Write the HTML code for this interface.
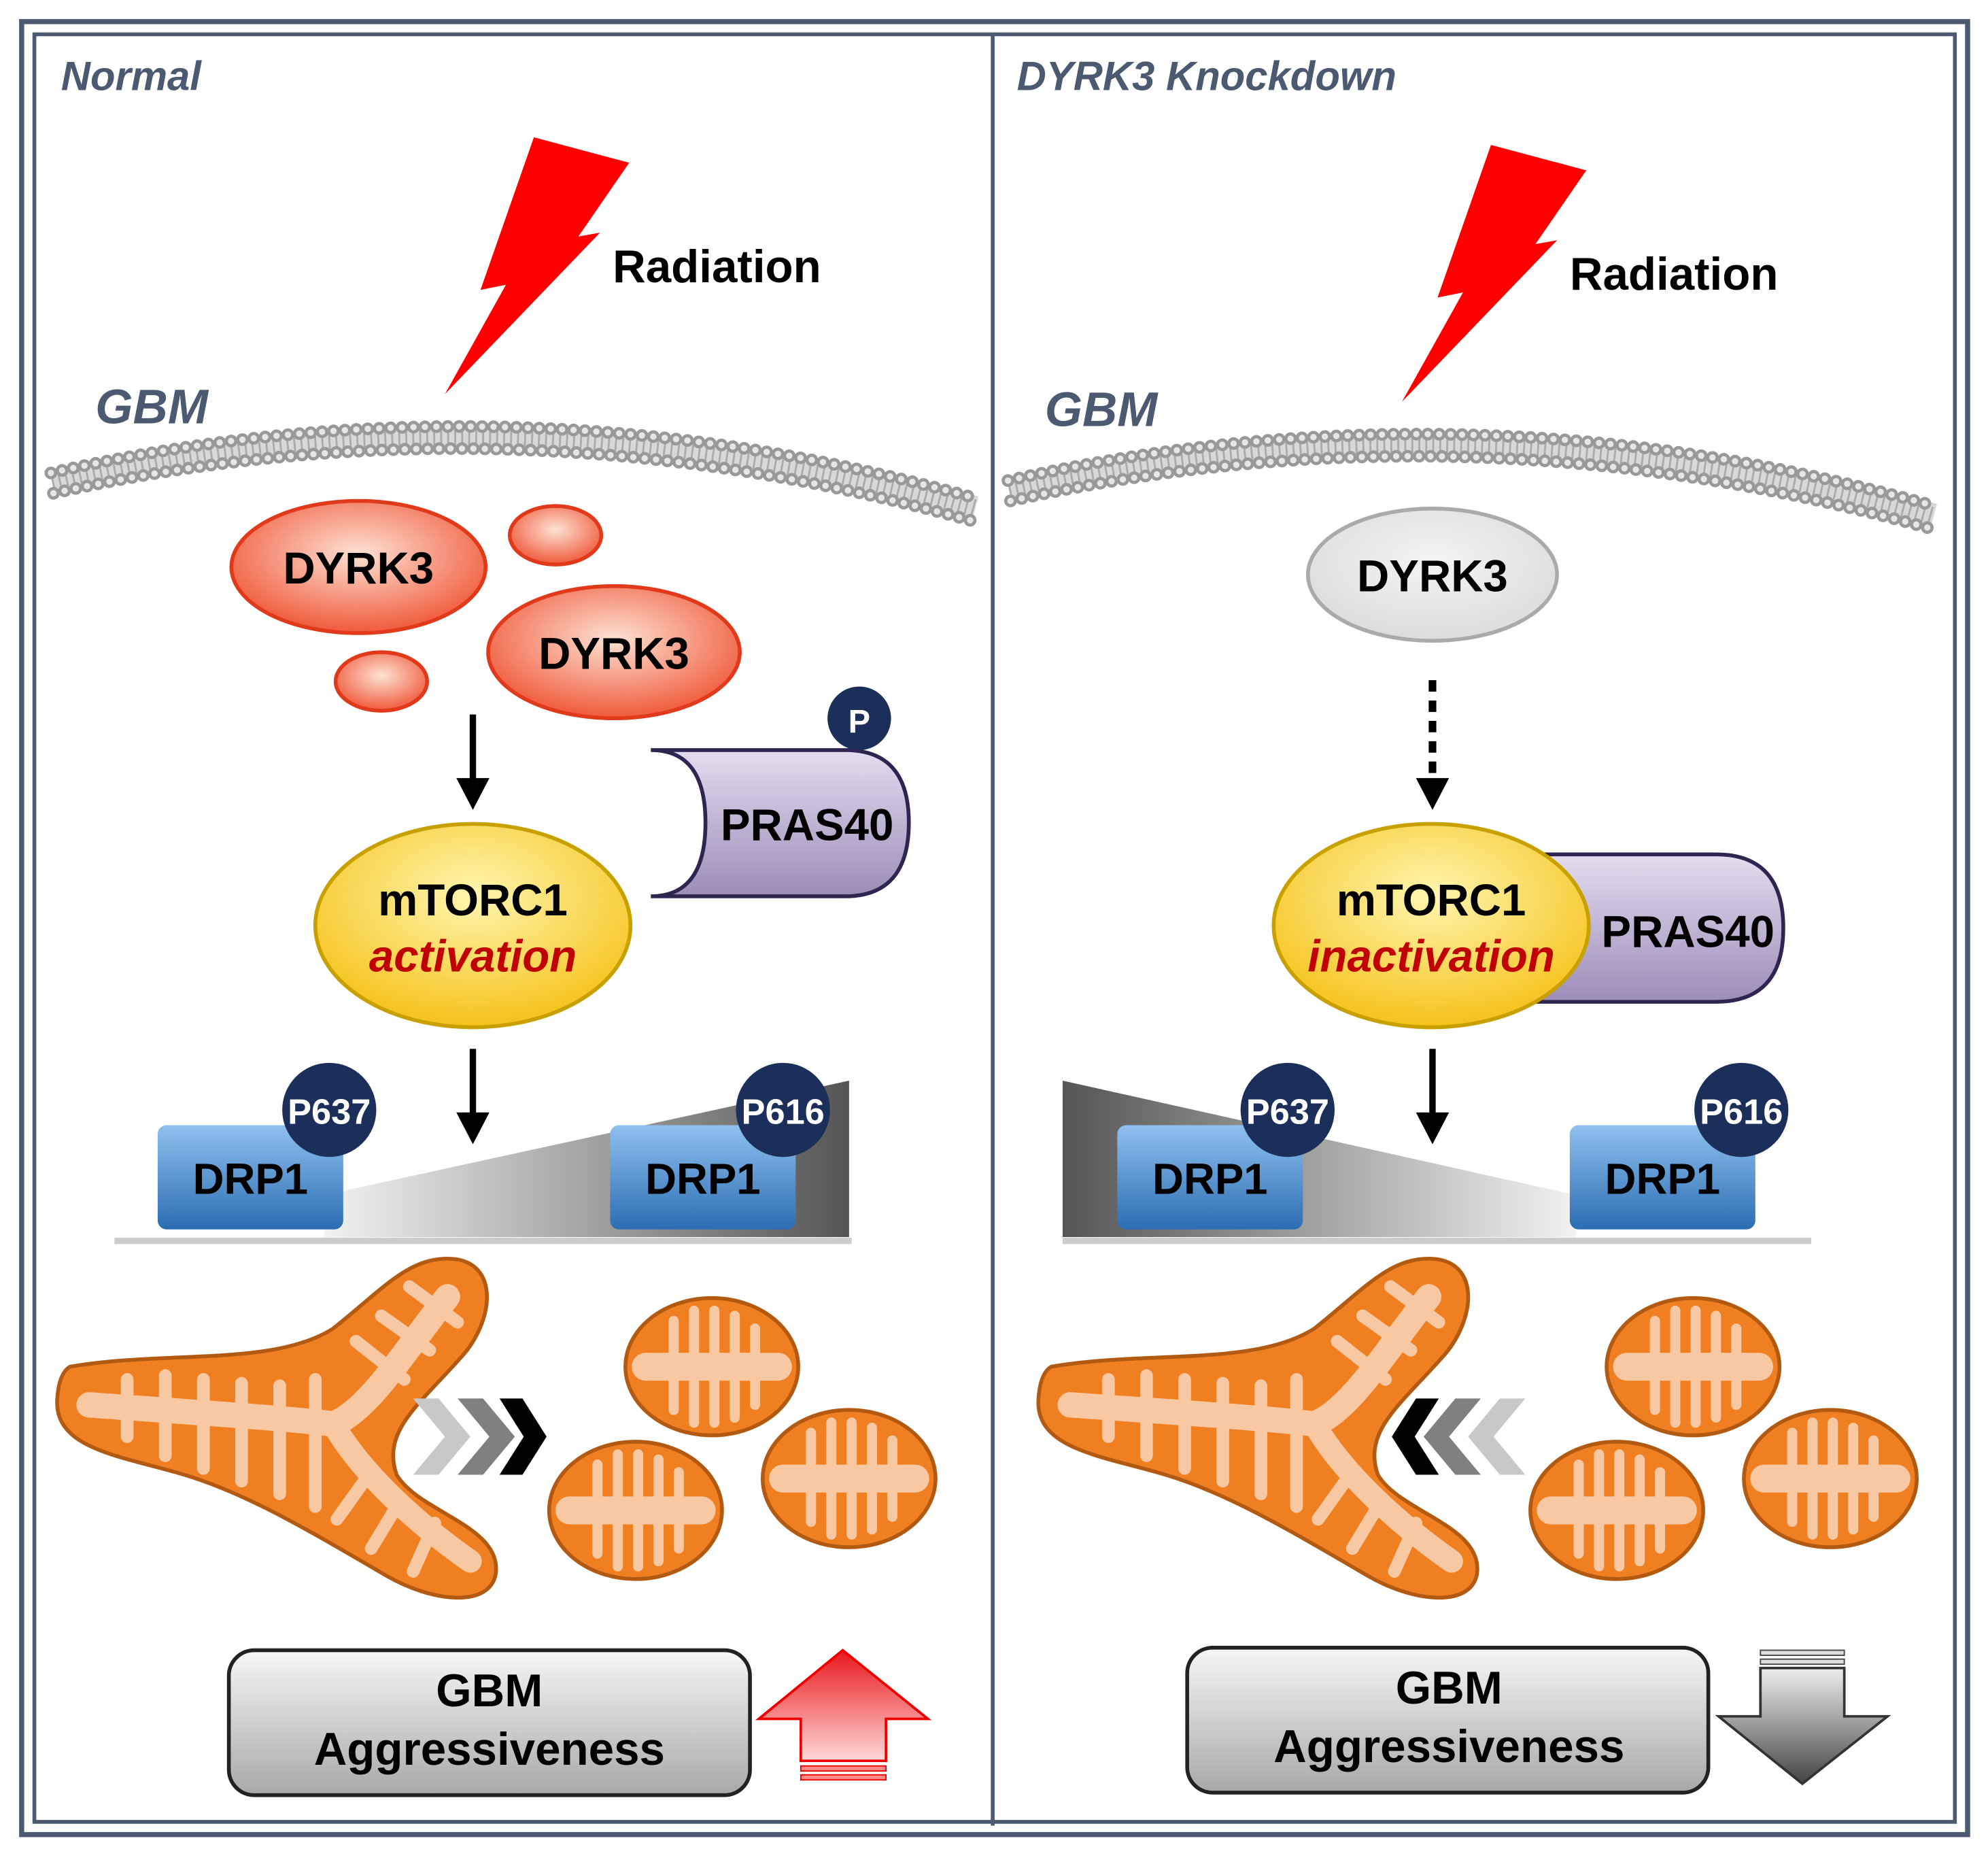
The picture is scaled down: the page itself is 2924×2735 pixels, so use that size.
<!DOCTYPE html>
<html><head><meta charset="utf-8"><style>
html,body{margin:0;padding:0;background:#fff}
svg{display:block}
text{font-family:"Liberation Sans",Arial,sans-serif;font-weight:bold}
</style></head><body>
<svg width="2924" height="2735" viewBox="0 0 1564 1463" xmlns="http://www.w3.org/2000/svg">
<defs>
<radialGradient id="red" cx="50%" cy="40%" r="60%"><stop offset="0" stop-color="#fde2d4"/><stop offset="1" stop-color="#f0593a"/></radialGradient>
<radialGradient id="gry" cx="50%" cy="40%" r="60%"><stop offset="0" stop-color="#f4f4f4"/><stop offset="1" stop-color="#dcdcdc"/></radialGradient>
<radialGradient id="yel" cx="50%" cy="35%" r="65%"><stop offset="0" stop-color="#fff6b0"/><stop offset="1" stop-color="#f5c21a"/></radialGradient>
<linearGradient id="pur" x1="0" y1="0" x2="0" y2="1"><stop offset="0" stop-color="#e4dcef"/><stop offset="1" stop-color="#9c8cb8"/></linearGradient>
<linearGradient id="blu" x1="0" y1="0" x2="0" y2="1"><stop offset="0" stop-color="#8ec0ee"/><stop offset="1" stop-color="#2c6db3"/></linearGradient>
<linearGradient id="boxg" x1="0" y1="0" x2="0" y2="1"><stop offset="0" stop-color="#f6f6f6"/><stop offset="1" stop-color="#a8a8a8"/></linearGradient>
<linearGradient id="wedgeR" x1="0" y1="0" x2="1" y2="0"><stop offset="0" stop-color="#f2f2f2"/><stop offset="1" stop-color="#555"/></linearGradient>
<linearGradient id="wedgeL" x1="1" y1="0" x2="0" y2="0"><stop offset="0" stop-color="#f2f2f2"/><stop offset="1" stop-color="#555"/></linearGradient>
<linearGradient id="redA" x1="0" y1="0" x2="0" y2="1"><stop offset="0" stop-color="#e8171b"/><stop offset="1" stop-color="#ffd8d8"/></linearGradient>
<linearGradient id="gryA" x1="0" y1="0" x2="0" y2="1"><stop offset="0" stop-color="#eeeeee"/><stop offset="1" stop-color="#444"/></linearGradient>
<g id="smito">
<ellipse cx="0" cy="0" rx="68" ry="54" fill="#f07f22" stroke="#b35a12" stroke-width="3"/>
<g stroke="#f8c8a2" stroke-linecap="round" fill="none">
<path d="M-52,0 H52" stroke-width="22"/>
<path d="M-30,0 V-36 M-14,0 V-44 M2,0 V-44 M18,0 V-40 M34,0 V-30 M-30,0 V34 M-14,0 V44 M2,0 V44 M18,0 V40 M34,0 V30" stroke-width="8"/>
</g>
</g>
<g id="bmito">
<path d="M55,1075 C130,1062 215,1075 262,1045 C300,1015 320,990 352,990 C392,990 390,1035 365,1065 C330,1105 300,1125 312,1160 C330,1190 395,1200 390,1238 C385,1265 340,1260 305,1240 C245,1205 195,1175 145,1160 C95,1145 42,1140 45,1100 C46,1085 50,1078 55,1075 Z" fill="#f07f22" stroke="#b35a12" stroke-width="3"/>
<g stroke="#f8c8a2" stroke-linecap="round" fill="none" stroke-width="10">
<path d="M70,1105 C140,1110 220,1115 262,1120 C290,1110 320,1060 352,1020" stroke-width="20"/>
<path d="M262,1120 C285,1160 330,1200 370,1228" stroke-width="18"/>
<path d="M100,1085 V1130 M130,1082 V1145 M160,1085 V1155 M190,1088 V1165 M220,1090 V1175 M248,1085 V1185 M280,1055 L318,1085 M300,1035 L338,1062 M322,1012 L360,1040 M290,1160 L265,1195 M315,1180 L292,1218 M342,1198 L325,1236"/>
</g>
</g>
</defs>
<rect x="0" y="0" width="1564" height="1463" fill="#fff"/>
<rect x="17" y="17" width="1531" height="1426" fill="none" stroke="#4b5a70" stroke-width="4"/>
<rect x="27" y="27" width="1511" height="1406" fill="none" stroke="#4b5a70" stroke-width="3"/>
<line x1="781" y1="27" x2="781" y2="1436" stroke="#4b5a70" stroke-width="3"/>

<text x="48" y="71" font-size="32" font-style="italic" fill="#4b5a70">Normal</text>
<text x="800" y="71" font-size="32" font-style="italic" fill="#4b5a70">DYRK3 Knockdown</text>

<!-- LEFT -->
<g>
<polygon points="420,108 495,128 455,186 472,183 350,310 398,224 378,228" fill="#f00"/>
<text x="482" y="222" font-size="36">Radiation</text>
<text x="75" y="333" font-size="38" font-style="italic" fill="#4b5a70">GBM</text>
<path d="M41,380 Q400,299 767,401" fill="none" stroke="#d8d8d8" stroke-width="22"/>
<path d="M41,380 Q400,299 767,401" fill="none" stroke="#aaa" stroke-width="16" stroke-dasharray="1.5 4"/>
<path d="M40,372 Q400,290 768,392" fill="none" stroke="#999" stroke-width="10" stroke-dasharray="0 9" stroke-linecap="round"/>
<path d="M40,372 Q400,290 768,392" fill="none" stroke="#e6e6e6" stroke-width="5" stroke-dasharray="0 9" stroke-linecap="round"/>
<path d="M42,388 Q400,308 766,410" fill="none" stroke="#999" stroke-width="10" stroke-dasharray="0 9" stroke-linecap="round"/>
<path d="M42,388 Q400,308 766,410" fill="none" stroke="#e6e6e6" stroke-width="5" stroke-dasharray="0 9" stroke-linecap="round"/>
<ellipse cx="282" cy="446" rx="100" ry="52" fill="url(#red)" stroke="#e03a1a" stroke-width="3"/>
<ellipse cx="483" cy="513" rx="99" ry="52" fill="url(#red)" stroke="#e03a1a" stroke-width="3"/>
<ellipse cx="437" cy="421" rx="36" ry="23" fill="url(#red)" stroke="#e03a1a" stroke-width="3"/>
<ellipse cx="300" cy="536" rx="36" ry="23" fill="url(#red)" stroke="#e03a1a" stroke-width="3"/>
<text x="282" y="459" font-size="35" text-anchor="middle">DYRK3</text>
<text x="483" y="526" font-size="35" text-anchor="middle">DYRK3</text>
<line x1="372" y1="562" x2="372" y2="615" stroke="#000" stroke-width="5"/>
<polygon points="359,612 385,612 372,637" fill="#000"/>
<path d="M512,590 L665,590 Q715,590 715,647 Q715,705 665,705 L512,705 Q555,705 555,647 Q555,590 512,590 Z" fill="url(#pur)" stroke="#2e2550" stroke-width="3"/>
<text x="635" y="661" font-size="35" text-anchor="middle">PRAS40</text>
<circle cx="676" cy="565" r="25" fill="#1c2f5a"/>
<text x="676" y="576" font-size="26" text-anchor="middle" fill="#fff">P</text>
<ellipse cx="372" cy="728" rx="124" ry="80" fill="url(#yel)" stroke="#c8a000" stroke-width="3"/>
<text x="372" y="720" font-size="35" text-anchor="middle">mTORC1</text>
<text x="372" y="764" font-size="35" text-anchor="middle" font-style="italic" fill="#c00000">activation</text>
<line x1="372" y1="825" x2="372" y2="878" stroke="#000" stroke-width="5"/>
<polygon points="359,875 385,875 372,900" fill="#000"/>
<line x1="90" y1="976" x2="670" y2="976" stroke="#ccc" stroke-width="5"/>
<polygon points="255,940 668,850 668,973 255,973" fill="url(#wedgeR)"/>
<rect x="124" y="885" width="146" height="82" rx="7" fill="url(#blu)"/>
<rect x="480" y="885" width="146" height="82" rx="7" fill="url(#blu)"/>
<text x="197" y="939" font-size="34" text-anchor="middle">DRP1</text>
<text x="553" y="939" font-size="34" text-anchor="middle">DRP1</text>
<circle cx="259" cy="873" r="37" fill="#1c2f5a"/>
<text x="259" y="884" font-size="28" text-anchor="middle" fill="#fff">P637</text>
<circle cx="616" cy="873" r="37" fill="#1c2f5a"/>
<text x="616" y="884" font-size="28" text-anchor="middle" fill="#fff">P616</text>
<use href="#bmito"/>
<polygon points="325,1100 345,1100 370,1130 345,1160 325,1160 350,1130" fill="#c8c8c8"/>
<polygon points="360,1100 380,1100 405,1130 380,1160 360,1160 385,1130" fill="#808080"/>
<polygon points="393,1100 411,1100 430,1130 411,1160 393,1160 412,1130" fill="#000"/>
<use href="#smito" transform="translate(560,1075)"/>
<use href="#smito" transform="translate(500,1188)"/>
<use href="#smito" transform="translate(668,1163)"/>
<rect x="180" y="1298" width="410" height="114" rx="20" fill="url(#boxg)" stroke="#222" stroke-width="3"/>
<text x="385" y="1342" font-size="36" text-anchor="middle">GBM</text>
<text x="385" y="1388" font-size="36" text-anchor="middle">Aggressiveness</text>
<polygon points="597,1352 663,1298 730,1352 697,1352 697,1385 630,1385 630,1352" fill="url(#redA)" stroke="#e00" stroke-width="2"/>
<rect x="630" y="1389" width="67" height="4" fill="#f88" stroke="#e00" stroke-width="1"/>
<rect x="630" y="1396" width="67" height="4" fill="#f88" stroke="#e00" stroke-width="1"/>
</g>

<!-- RIGHT -->
<g>
<polygon points="1173,114 1248,134 1208,192 1225,189 1103,316 1151,230 1131,234" fill="#f00"/>
<text x="1235" y="228" font-size="36">Radiation</text>
<text x="822" y="335" font-size="38" font-style="italic" fill="#4b5a70">GBM</text>
<path d="M794,386 Q1155,305 1521,407" fill="none" stroke="#d8d8d8" stroke-width="22"/>
<path d="M794,386 Q1155,305 1521,407" fill="none" stroke="#aaa" stroke-width="16" stroke-dasharray="1.5 4"/>
<path d="M793,378 Q1155,296 1522,398" fill="none" stroke="#999" stroke-width="10" stroke-dasharray="0 9" stroke-linecap="round"/>
<path d="M793,378 Q1155,296 1522,398" fill="none" stroke="#e6e6e6" stroke-width="5" stroke-dasharray="0 9" stroke-linecap="round"/>
<path d="M795,394 Q1155,314 1520,416" fill="none" stroke="#999" stroke-width="10" stroke-dasharray="0 9" stroke-linecap="round"/>
<path d="M795,394 Q1155,314 1520,416" fill="none" stroke="#e6e6e6" stroke-width="5" stroke-dasharray="0 9" stroke-linecap="round"/>
<ellipse cx="1127" cy="452" rx="98" ry="52" fill="url(#gry)" stroke="#aaa" stroke-width="3"/>
<text x="1127" y="465" font-size="35" text-anchor="middle">DYRK3</text>
<line x1="1127" y1="535" x2="1127" y2="612" stroke="#000" stroke-width="6" stroke-dasharray="9 7"/>
<polygon points="1114,612 1140,612 1127,637" fill="#000"/>
<path d="M1200,672 L1350,672 Q1403,672 1403,730 Q1403,788 1350,788 L1200,788 Z" fill="url(#pur)" stroke="#2e2550" stroke-width="3"/>
<ellipse cx="1126" cy="728" rx="124" ry="80" fill="url(#yel)" stroke="#c8a000" stroke-width="3"/>
<text x="1328" y="745" font-size="35" text-anchor="middle">PRAS40</text>
<text x="1126" y="720" font-size="35" text-anchor="middle">mTORC1</text>
<text x="1126" y="764" font-size="35" text-anchor="middle" font-style="italic" fill="#c00000">inactivation</text>
<line x1="1127" y1="825" x2="1127" y2="878" stroke="#000" stroke-width="5"/>
<polygon points="1114,875 1140,875 1127,900" fill="#000"/>
<line x1="836" y1="976" x2="1425" y2="976" stroke="#ccc" stroke-width="5"/>
<polygon points="836,850 1240,940 1240,973 836,973" fill="url(#wedgeL)"/>
<rect x="879" y="885" width="146" height="82" rx="7" fill="url(#blu)"/>
<rect x="1235" y="885" width="146" height="82" rx="7" fill="url(#blu)"/>
<text x="952" y="939" font-size="34" text-anchor="middle">DRP1</text>
<text x="1308" y="939" font-size="34" text-anchor="middle">DRP1</text>
<circle cx="1013" cy="873" r="37" fill="#1c2f5a"/>
<text x="1013" y="884" font-size="28" text-anchor="middle" fill="#fff">P637</text>
<circle cx="1370" cy="873" r="37" fill="#1c2f5a"/>
<text x="1370" y="884" font-size="28" text-anchor="middle" fill="#fff">P616</text>
<use href="#bmito" transform="translate(772,0)"/>
<polygon points="1200,1100 1180,1100 1155,1130 1180,1160 1200,1160 1175,1130" fill="#c8c8c8"/>
<polygon points="1165,1100 1145,1100 1120,1130 1145,1160 1165,1160 1140,1130" fill="#808080"/>
<polygon points="1132,1100 1114,1100 1095,1130 1114,1160 1132,1160 1113,1130" fill="#000"/>
<use href="#smito" transform="translate(1332,1075)"/>
<use href="#smito" transform="translate(1272,1188)"/>
<use href="#smito" transform="translate(1440,1163)"/>
<rect x="934" y="1296" width="410" height="114" rx="20" fill="url(#boxg)" stroke="#222" stroke-width="3"/>
<text x="1140" y="1340" font-size="36" text-anchor="middle">GBM</text>
<text x="1140" y="1386" font-size="36" text-anchor="middle">Aggressiveness</text>
<rect x="1385" y="1298" width="66" height="4" fill="#ddd" stroke="#444" stroke-width="1"/>
<rect x="1385" y="1305" width="66" height="4" fill="#ddd" stroke="#444" stroke-width="1"/>
<polygon points="1385,1312 1451,1312 1451,1350 1485,1350 1418,1403 1352,1350 1385,1350" fill="url(#gryA)" stroke="#333" stroke-width="2"/>
</g>
</svg>
</body></html>
